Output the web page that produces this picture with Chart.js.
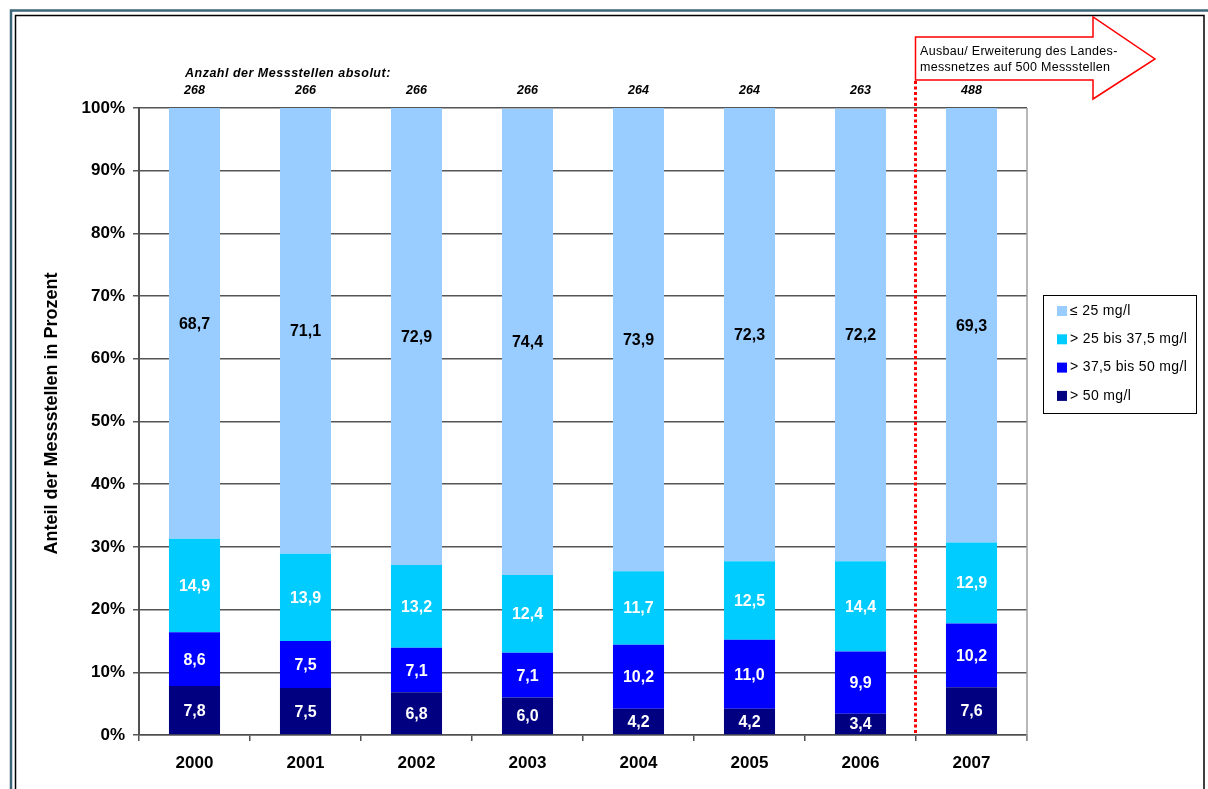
<!DOCTYPE html>
<html><head><meta charset="utf-8">
<script src="https://cdn.jsdelivr.net/npm/chart.js@4.4.1/dist/chart.umd.min.js"></script>
<style>html,body{margin:0;padding:0;background:#fff;overflow:hidden}#wrap{position:relative;width:1208px;height:789px}canvas{display:block}</style>
</head><body><div id="wrap"><canvas id="c" width="1208" height="789"></canvas></div>
<script>
const years = ['2000','2001','2002','2003','2004','2005','2006','2007'];
const countLabel = 'Anzahl der Messstellen absolut:';
const counts = [268,266,266,266,264,264,263,488];
const seriesNames = ['> 50 mg/l','> 37,5 bis 50 mg/l','> 25 bis 37,5 mg/l','\u2264 25 mg/l'];
const seriesColors = ['#000080','#0000FF','#00CCFF','#99CCFF'];
const over50 = [7.8,7.5,6.8,6.0,4.2,4.2,3.4,7.6];
const from375to50 = [8.6,7.5,7.1,7.1,10.2,11.0,9.9,10.2];
const from25to375 = [14.9,13.9,13.2,12.4,11.7,12.5,14.4,12.9];
const upTo25 = [68.7,71.1,72.9,74.4,73.9,72.3,72.2,69.3];
const yTicks = [0,10,20,30,40,50,60,70,80,90,100];
const yTitle = 'Anteil der Messstellen in Prozent';
const noteLines = ['Ausbau/ Erweiterung des Landes-','messnetzes auf 500 Messstellen'];

const FONT = '"Liberation Sans", Arial, sans-serif';
const seriesData = [over50, from375to50, from25to375, upTo25];

const extras = {
  id: 'extras',
  beforeDraw(chart) {
    const ctx = chart.ctx;
    ctx.save();
    ctx.fillStyle = '#fff';
    ctx.fillRect(0, 0, chart.width, chart.height);
    ctx.strokeStyle = '#3e6679';
    ctx.lineWidth = 2.5;
    ctx.strokeRect(11, 10.5, 1220, 820);
    ctx.strokeStyle = '#000';
    ctx.lineWidth = 1.5;
    ctx.strokeRect(15.5, 15.5, 1204 - 15.5, 820);
    ctx.restore();
  },
  afterDraw(chart) {
    const ctx = chart.ctx;
    const ca = chart.chartArea;
    const xs = chart.scales.x;
    ctx.save();
    ctx.strokeStyle = '#a0a0a0';
    ctx.lineWidth = 1.5;
    ctx.beginPath(); ctx.moveTo(ca.right, ca.top); ctx.lineTo(ca.right, ca.bottom + 6); ctx.stroke();

    ctx.font = 'bold 16px ' + FONT;
    ctx.textAlign = 'center';
    ctx.textBaseline = 'middle';
    chart.data.datasets.forEach((ds, i) => {
      const meta = chart.getDatasetMeta(i);
      meta.data.forEach((el, j) => {
        const p = el.getProps(['x', 'y', 'base'], true);
        const v = ds.data[j];
        ctx.fillStyle = i === 3 ? '#000' : '#fff';
        ctx.fillText(v.toFixed(1).replace('.', ','), p.x, (p.y + p.base) / 2 + 1);
      });
    });

    ctx.save();
    ctx.translate(52, (ca.top + ca.bottom) / 2 - 8);
    ctx.rotate(-Math.PI / 2);
    ctx.font = 'bold 18px ' + FONT;
    ctx.fillStyle = '#000';
    ctx.textAlign = 'center';
    ctx.textBaseline = 'middle';
    ctx.fillText(yTitle, 0, 0);
    ctx.restore();

    ctx.fillStyle = '#000';
    ctx.font = 'italic bold 12.5px ' + FONT;
    ctx.textAlign = 'left';
    ctx.textBaseline = 'middle';
    try { ctx.letterSpacing = '0.5px'; } catch (e) {}
    ctx.fillText(countLabel, 185, 74);
    try { ctx.letterSpacing = '0px'; } catch (e) {}
    ctx.textAlign = 'center';
    counts.forEach((c, j) => {
      ctx.fillText(String(c), xs.getPixelForValue(j), 91);
    });

    const sepX = Math.round((xs.getPixelForValue(6) + xs.getPixelForValue(7)) / 2) - 0.5;
    ctx.strokeStyle = '#ff0000';
    ctx.lineWidth = 3;
    ctx.setLineDash([3, 2.5]);
    ctx.beginPath(); ctx.moveTo(sepX, 81); ctx.lineTo(sepX, ca.bottom); ctx.stroke();
    ctx.setLineDash([]);

    ctx.beginPath();
    ctx.moveTo(sepX, 37); ctx.lineTo(1093, 37); ctx.lineTo(1093, 17);
    ctx.lineTo(1155, 59); ctx.lineTo(1093, 99); ctx.lineTo(1093, 80);
    ctx.lineTo(sepX, 80); ctx.closePath();
    ctx.fillStyle = '#fff'; ctx.fill();
    ctx.strokeStyle = '#ff0000'; ctx.lineWidth = 1.5; ctx.stroke();
    ctx.fillStyle = '#000';
    ctx.font = '12.5px ' + FONT;
    ctx.textAlign = 'left';
    ctx.textBaseline = 'middle';
    try { ctx.letterSpacing = '0.3px'; } catch (e) {}
    ctx.fillText(noteLines[0], 920, 52);
    ctx.fillText(noteLines[1], 920, 68);
    try { ctx.letterSpacing = '0px'; } catch (e) {}

    const lx = 1043, ly = 295, lw = 153, lh = 118;
    ctx.fillStyle = '#fff';
    ctx.fillRect(lx, ly, lw, lh);
    ctx.strokeStyle = '#000'; ctx.lineWidth = 1;
    ctx.strokeRect(lx + 0.5, ly + 0.5, lw, lh);
    ctx.font = '14px ' + FONT;
    ctx.textBaseline = 'middle';
    try { ctx.letterSpacing = '0.35px'; } catch (e) {}
    for (let k = 0; k < 4; k++) {
      const si = 3 - k;
      const cy = 311 + k * 28.3;
      ctx.fillStyle = seriesColors[si];
      ctx.fillRect(1057, cy - 5, 10, 10);
      ctx.fillStyle = '#000';
      ctx.fillText(seriesNames[si], 1070, cy);
    }
    try { ctx.letterSpacing = '0px'; } catch (e) {}
    ctx.restore();
  }
};

new Chart(document.getElementById('c'), {
  type: 'bar',
  data: {
    labels: years,
    datasets: seriesData.map((d, i) => ({
      label: seriesNames[i],
      data: d,
      backgroundColor: seriesColors[i],
      borderWidth: 0,
      barPercentage: 0.46,
      categoryPercentage: 1.0
    }))
  },
  options: {
    responsive: false,
    animation: false,
    devicePixelRatio: 1,
    layout: { padding: { top: 108, right: 181, bottom: 0, left: 0 } },
    plugins: { legend: { display: false }, tooltip: { enabled: false }, title: { display: false } },
    scales: {
      x: {
        stacked: true,
        grid: { offset: true, drawOnChartArea: false, tickLength: 6, color: '#505050', lineWidth: 1.5 },
        border: { color: '#505050', width: 1.5 },
        ticks: { color: '#000', font: { family: FONT, size: 17, weight: 'bold' }, padding: 12, maxRotation: 0 },
        afterFit(s) { s.height = 54; }
      },
      y: {
        stacked: true,
        min: 0, max: 100,
        afterBuildTicks(s) { s.ticks = yTicks.map(v => ({ value: v })); },
        grid: { color: '#555555', lineWidth: 1.5, tickLength: 6 },
        border: { color: '#505050', width: 2 },
        ticks: { color: '#000', font: { family: FONT, size: 17, weight: 'bold' }, padding: 8, callback: v => v + '%' },
        afterFit(s) { s.width = 139; }
      }
    }
  },
  plugins: [extras]
});
</script>
</body></html>
